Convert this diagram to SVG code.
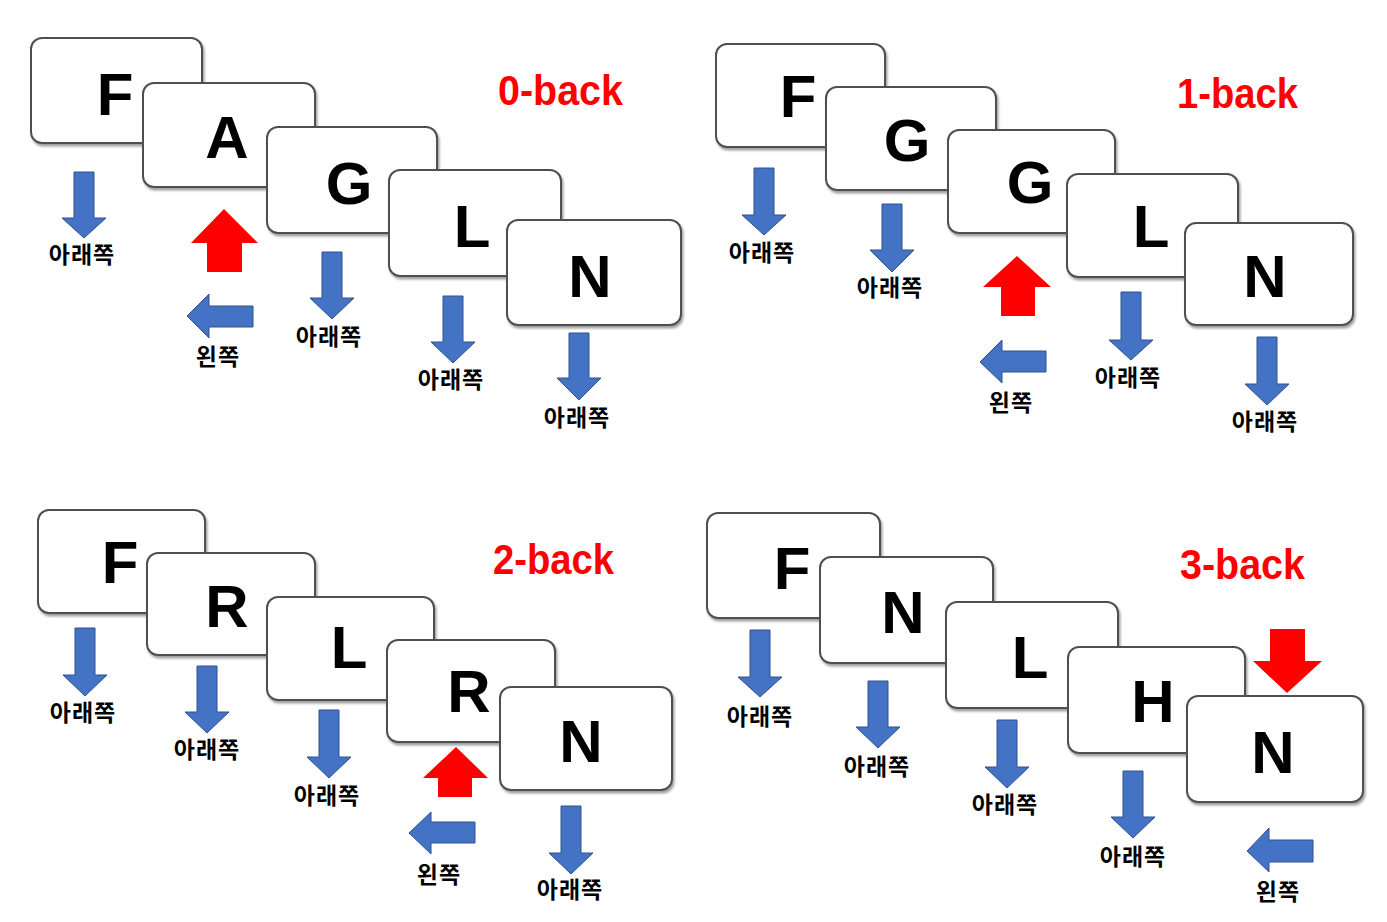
<svg xmlns="http://www.w3.org/2000/svg" width="1387" height="922" viewBox="0 0 1387 922">
<defs>
<filter id="sh" x="-10%" y="-10%" width="125%" height="130%">
<feDropShadow dx="1.5" dy="2.5" stdDeviation="1.2" flood-color="#777" flood-opacity="0.7"/>
</filter>
</defs>
<style>
.card{fill:#fff;stroke:#505050;stroke-width:2;filter:url(#sh)}
.let{font-family:"Liberation Sans",Arial,sans-serif;font-weight:bold;font-size:60px;fill:#000;text-anchor:middle}
.lab{font-family:"Noto Sans CJK KR",sans-serif;font-weight:700;font-size:23px;letter-spacing:1px;fill:#000;text-anchor:middle}
.ttl{font-family:"Liberation Sans",Arial,sans-serif;font-weight:bold;font-size:42px;fill:#ff0000}
.blue{fill:#4472C4;stroke:#2F528F;stroke-width:1}
.red{fill:#ff0000}
</style>
<rect width="1387" height="922" fill="#fff"/>

<!-- Panel 1: 0-back -->
<g id="p1-F"><rect class="card" x="31" y="38" width="171" height="105" rx="11"/><text class="let" x="115" y="115">F</text></g>
<g id="p1-A"><rect class="card" x="143" y="83" width="172" height="104" rx="11"/><text class="let" x="227" y="158">A</text></g>
<g id="p1-G"><rect class="card" x="267" y="127" width="170" height="106" rx="11"/><text class="let" x="349" y="204">G</text></g>
<g id="p1-L"><rect class="card" x="389" y="170" width="172" height="106" rx="11"/><text class="let" x="472" y="247">L</text></g>
<g id="p1-N"><rect class="card" x="507" y="220" width="174" height="105" rx="11"/><text class="let" x="590" y="297">N</text></g>
<text id="p1-title" class="ttl" x="498" y="105" textLength="125" lengthAdjust="spacingAndGlyphs">0-back</text>

<!-- Panel 2: 1-back -->
<g id="p2-F"><rect class="card" x="716" y="44" width="169" height="103" rx="11"/><text class="let" x="798" y="117">F</text></g>
<g id="p2-G1"><rect class="card" x="826" y="87" width="170" height="103" rx="11"/><text class="let" x="907" y="161">G</text></g>
<g id="p2-G2"><rect class="card" x="948" y="130" width="167" height="103" rx="11"/><text class="let" x="1030" y="203">G</text></g>
<g id="p2-L"><rect class="card" x="1067" y="174" width="171" height="103" rx="11"/><text class="let" x="1151" y="247">L</text></g>
<g id="p2-N"><rect class="card" x="1185" y="223" width="168" height="102" rx="11"/><text class="let" x="1265" y="297">N</text></g>
<text id="p2-title" class="ttl" x="1177" y="108" textLength="121" lengthAdjust="spacingAndGlyphs">1-back</text>

<!-- Panel 3: 2-back -->
<g id="p3-F"><rect class="card" x="38" y="510" width="167" height="103" rx="11"/><text class="let" x="120" y="583">F</text></g>
<g id="p3-R1"><rect class="card" x="147" y="553" width="168" height="102" rx="11"/><text class="let" x="227" y="627">R</text></g>
<g id="p3-L"><rect class="card" x="267" y="597" width="167" height="103" rx="11"/><text class="let" x="349" y="668">L</text></g>
<g id="p3-R2"><rect class="card" x="387" y="640" width="168" height="102" rx="11"/><text class="let" x="469" y="712">R</text></g>
<g id="p3-N"><rect class="card" x="500" y="687" width="172" height="103" rx="11"/><text class="let" x="581" y="762">N</text></g>
<text id="p3-title" class="ttl" x="493" y="574" textLength="121" lengthAdjust="spacingAndGlyphs">2-back</text>

<!-- Panel 4: 3-back -->
<g id="p4-F"><rect class="card" x="707" y="513" width="173" height="105" rx="11"/><text class="let" x="792" y="589">F</text></g>
<g id="p4-N1"><rect class="card" x="820" y="557" width="173" height="106" rx="11"/><text class="let" x="903" y="633">N</text></g>
<g id="p4-L"><rect class="card" x="946" y="602" width="172" height="106" rx="11"/><text class="let" x="1030" y="678">L</text></g>
<g id="p4-H"><rect class="card" x="1068" y="647" width="177" height="106" rx="11"/><text class="let" x="1153" y="722">H</text></g>
<g id="p4-N2"><rect class="card" x="1187" y="696" width="176" height="106" rx="11"/><text class="let" x="1273" y="773">N</text></g>
<text id="p4-title" class="ttl" x="1180" y="579" textLength="125" lengthAdjust="spacingAndGlyphs">3-back</text>

<!-- Response arrows -->
<g id="connectors">
<!-- panel 1 -->
<polygon class="blue" points="74,172 94,172 94,218 106,218 84,238 62,218 74,218"/>
<polygon class="red" points="224,209 258,243 242,243 242,272 207,272 207,243 191,243"/>
<polygon class="blue" points="187,316 209,294 209,306 253,306 253,327 209,327 209,338"/>
<polygon class="blue" points="322,252 342,252 342,298 354,298 332,319 310,298 322,298"/>
<polygon class="blue" points="443,296 463,296 463,342 475,342 453,363 431,342 443,342"/>
<polygon class="blue" points="569,333 589,333 589,378 601,378 579,400 557,378 569,378"/>
<!-- panel 2 -->
<polygon class="blue" points="754,168 774,168 774,215 786,215 764,235 742,215 754,215"/>
<polygon class="blue" points="882,204 902,204 902,250 914,250 892,272 870,250 882,250"/>
<polygon class="red" points="1017,256 1051,287 1035,287 1035,316 1001,316 1001,287 983,287"/>
<polygon class="blue" points="980,362 1002,340 1002,351 1046,351 1046,372 1002,372 1002,383"/>
<polygon class="blue" points="1121,292 1141,292 1141,340 1153,340 1131,360 1109,340 1121,340"/>
<polygon class="blue" points="1257,337 1277,337 1277,384 1289,384 1267,405 1245,384 1257,384"/>
<!-- panel 3 -->
<polygon class="blue" points="75,628 95,628 95,675 107,675 85,696 63,675 75,675"/>
<polygon class="blue" points="197,666 217,666 217,712 229,712 207,733 185,712 197,712"/>
<polygon class="blue" points="319,710 339,710 339,757 351,757 329,778 307,757 319,757"/>
<polygon class="red" points="456,747 488,778 472,778 472,797 438,797 438,778 423,778"/>
<polygon class="blue" points="409,833 431,812 431,822 475,822 475,843 431,843 431,854"/>
<polygon class="blue" points="561,806 581,806 581,853 593,853 571,874 549,853 561,853"/>
<!-- panel 4 -->
<polygon class="blue" points="750,630 770,630 770,677 782,677 760,697 738,677 750,677"/>
<polygon class="blue" points="868,681 888,681 888,727 900,727 878,748 856,727 868,727"/>
<polygon class="blue" points="997,720 1017,720 1017,767 1029,767 1007,788 985,767 997,767"/>
<polygon class="blue" points="1123,771 1143,771 1143,817 1155,817 1133,838 1111,817 1123,817"/>
<polygon class="red" points="1270,629 1305,629 1305,661 1322,661 1287,693 1253,661 1270,661"/>
<polygon class="blue" points="1247,851 1269,828 1269,840 1313,840 1313,862 1269,862 1269,872"/>
</g>

<g id="labels">
<text class="lab" x="82" y="263">아래쪽</text>
<text class="lab" x="218" y="365">왼쪽</text>
<text class="lab" x="329" y="345">아래쪽</text>
<text class="lab" x="451" y="388">아래쪽</text>
<text class="lab" x="577" y="426">아래쪽</text>
<text class="lab" x="762" y="261">아래쪽</text>
<text class="lab" x="890" y="296">아래쪽</text>
<text class="lab" x="1011" y="411">왼쪽</text>
<text class="lab" x="1128" y="386">아래쪽</text>
<text class="lab" x="1265" y="430">아래쪽</text>
<text class="lab" x="83" y="721">아래쪽</text>
<text class="lab" x="207" y="758">아래쪽</text>
<text class="lab" x="327" y="804">아래쪽</text>
<text class="lab" x="439" y="883">왼쪽</text>
<text class="lab" x="570" y="898">아래쪽</text>
<text class="lab" x="760" y="725">아래쪽</text>
<text class="lab" x="877" y="775">아래쪽</text>
<text class="lab" x="1005" y="813">아래쪽</text>
<text class="lab" x="1133" y="865">아래쪽</text>
<text class="lab" x="1278" y="900">왼쪽</text>
</g>
</svg>
